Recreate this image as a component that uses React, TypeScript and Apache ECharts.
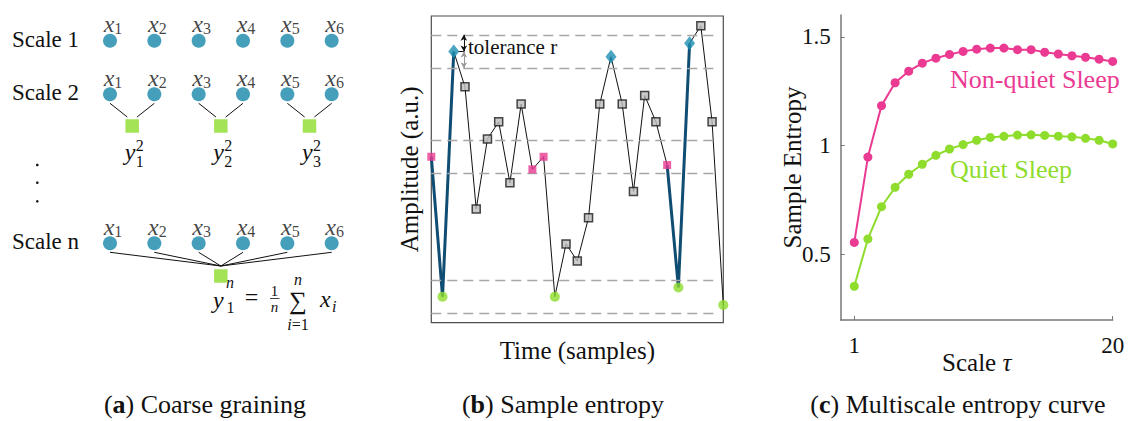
import React, { useEffect, useRef } from 'react';
import * as echarts from 'echarts';

const FONT = 'Liberation Serif, Times New Roman, serif';

// ---------- Panel (a): coarse graining diagram ----------
const sampleColumns = [1, 2, 3, 4, 5, 6];
const sampleIndexLabels = ['1', '2', '3', '4', '5', '6'];
const scaleRowNames = ['Scale 1', 'Scale 2', 'Scale n'];
const scaleRowLevels = [40.7, 94.3, 243.3];
const scale2MeanColumns = [1.5, 3.5, 5.5];
const scale2MeanIndexLabels = ['1', '2', '3'];
const scale2MeanLevel = 126;
const scaleNMeanColumn = 3.5;
const scaleNMeanLevel = 276;

// ---------- Panel (b): sample entropy ----------
const amplitude = [
  54.1, 8.5, 88.4, 76.9, 37.1, 59.9, 65.5, 45.6, 71.3, 50.0, 54.1, 8.5, 25.7, 20.1,
  34.2, 71.3, 86.7, 71.3, 42.8, 74.1, 65.5, 51.4, 11.5, 91.1, 96.8, 65.5, 5.8,
];
// p = template start (pink), g = template second (green), d = m+1 match (diamond), s = other
const pointKind = [
  'p', 'g', 'd', 's', 's', 's', 's', 's', 's', 'p', 'p', 'g', 's', 's',
  's', 's', 'd', 's', 's', 's', 's', 'p', 'g', 'd', 's', 's', 'g',
];
const thickRuns = [[0, 1, 2], [21, 22, 23]];
const templateIndices = [0, 1, 2];
const toleranceR = 5.45;

// ---------- Panel (c): multiscale entropy ----------
const scaleTau = [1, 2, 3, 4, 5, 6, 7, 8, 9, 10, 11, 12, 13, 14, 15, 16, 17, 18, 19, 20];
const nonQuietSE = [
  0.556, 0.948, 1.184, 1.289, 1.342, 1.379, 1.402, 1.419, 1.433, 1.443,
  1.448, 1.448, 1.441, 1.441, 1.429, 1.421, 1.413, 1.406, 1.397, 1.387,
];
const quietSE = [
  0.355, 0.572, 0.72, 0.809, 0.869, 0.915, 0.956, 0.985, 1.005, 1.025,
  1.038, 1.043, 1.049, 1.05, 1.047, 1.044, 1.041, 1.034, 1.025, 1.008,
];
const xTickValues = [1, 20];
const yTickValues = [0.5, 1, 1.5];

const TEAL = '#1687aa';
const GREEN = '#8edc2c';
const PINK = '#ea3a92';
const DARK_BLUE = '#0f4d72';
const INK = '#111111';

// layout helpers for panel (a)
const A_LEFT = 65.67;
const A_COL = 44.333;
const colPx = (c: number) => A_LEFT + c * A_COL;

// every text is written as a rich-text token so that its font is applied per token
function txt(text: string, x: number, y: number, size: number, extra: any = {}) {
  const tok: any = { fontFamily: FONT, fontSize: size, color: extra.fill || INK };
  if (extra.italic) tok.fontStyle = 'italic';
  const rich: any = { ...(extra.rich || {}), t: tok };
  const body = extra.rich ? text : `{t|${text}}`;
  return {
    type: 'text', x, y,
    style: {
      text: body, rich, fontFamily: FONT, fontSize: size, fill: extra.fill || INK,
      align: extra.align || 'left', verticalAlign: 'middle',
    },
  };
}

function buildOption() {
  const circles: any[] = [];
  scaleRowLevels.forEach((lvl) =>
    sampleColumns.forEach((c, i) => circles.push([c, lvl, sampleIndexLabels[i]]))
  );
  const squares: any[] = scale2MeanColumns
    .map((c) => [c, scale2MeanLevel])
    .concat([[scaleNMeanColumn, scaleNMeanLevel]]);
  const segs: any[] = [];
  scale2MeanColumns.forEach((mc, k) => {
    const l = sampleColumns[2 * k];
    const r = sampleColumns[2 * k + 1];
    segs.push({ coords: [[l, scaleRowLevels[1] + 9], [mc - 0.11, scale2MeanLevel - 9]] });
    segs.push({ coords: [[r, scaleRowLevels[1] + 9], [mc + 0.11, scale2MeanLevel - 9]] });
  });
  sampleColumns.forEach((c) =>
    segs.push({ coords: [[c, scaleRowLevels[2] + 9], [scaleNMeanColumn, scaleNMeanLevel - 10]] })
  );

  const pts = amplitude.map((v, i) => [i, v]);
  const byKind = (k: string) => pts.filter((_, i) => pointKind[i] === k);
  const bandLines: any[] = [];
  templateIndices.forEach((ti) => {
    [amplitude[ti] + toleranceR, amplitude[ti] - toleranceR].forEach((v) =>
      bandLines.push([{ coord: [0, v] }, { coord: [25.4, v] }])
    );
  });
  const dIdx = templateIndices[2];
  const dVal = amplitude[dIdx];
  const arrowX = dIdx + 0.9;

  const rich = {
    a: { fontFamily: FONT, fontStyle: 'italic', fontSize: 24, color: INK },
    b: { fontFamily: FONT, fontSize: 16, color: INK, padding: [9, 0, 0, 0] },
  };

  const series: any[] = [
    {
      type: 'lines', coordinateSystem: 'cartesian2d', xAxisIndex: 0, yAxisIndex: 0,
      data: segs, lineStyle: { color: INK, width: 1, opacity: 1 }, silent: true, z: 1,
    },
    {
      type: 'scatter', xAxisIndex: 0, yAxisIndex: 0, data: circles, symbol: 'circle', symbolSize: 14,
      itemStyle: { color: TEAL }, z: 3, silent: true,
      label: {
        show: true, position: 'top', distance: -3, offset: [3, 0], fontFamily: FONT,
        formatter: (p: any) => `{a|x}{b|${p.data[2]}}`, rich,
      },
    },
    {
      type: 'scatter', xAxisIndex: 0, yAxisIndex: 0, data: squares, symbol: 'rect', symbolSize: 13.5,
      itemStyle: { color: GREEN }, z: 3, silent: true,
    },
    {
      type: 'line', xAxisIndex: 1, yAxisIndex: 1, data: [], silent: true, z: 1,
      markLine: {
        silent: true, symbol: ['none', 'none'], label: { show: false },
        lineStyle: { color: '#a6a6a6', width: 1.3, type: [10, 6] },
        data: bandLines,
      },
    },
    {
      type: 'line', xAxisIndex: 1, yAxisIndex: 1, data: pts, showSymbol: false, symbol: 'none',
      lineStyle: { color: INK, width: 1 }, silent: true, z: 2,
    },
    ...thickRuns.map((run) => ({
      type: 'line', xAxisIndex: 1, yAxisIndex: 1, data: run.map((i) => pts[i]), showSymbol: false, symbol: 'none',
      lineStyle: { color: DARK_BLUE, width: 3 }, silent: true, z: 3,
    })),
    {
      type: 'scatter', xAxisIndex: 1, yAxisIndex: 1, data: byKind('s'), symbol: 'rect', symbolSize: 8,
      itemStyle: { color: '#bdbdbd', borderColor: '#1a1a1a', borderWidth: 1.5 }, z: 5, silent: true,
    },
    {
      type: 'scatter', xAxisIndex: 1, yAxisIndex: 1, data: byKind('p'), symbol: 'rect', symbolSize: 8,
      itemStyle: { color: PINK }, z: 5, silent: true,
    },
    {
      type: 'scatter', xAxisIndex: 1, yAxisIndex: 1, data: byKind('g'), symbol: 'circle', symbolSize: 10,
      itemStyle: { color: GREEN }, z: 5, silent: true,
    },
    {
      type: 'scatter', xAxisIndex: 1, yAxisIndex: 1, data: byKind('d'), symbol: 'diamond', symbolSize: [11, 14],
      itemStyle: { color: '#1b8fb2' }, z: 5, silent: true,
    },
    {
      type: 'line', xAxisIndex: 1, yAxisIndex: 1, data: [[arrowX, dVal]], symbol: 'none', lineStyle: { opacity: 0 }, silent: true, z: 4,
      markLine: {
        silent: true, symbol: ['arrow', 'arrow'], symbolSize: [5, 6], label: { show: false },
        lineStyle: { color: INK, width: 1, type: 'solid' },
        data: [[{ coord: [arrowX, dVal + toleranceR] }, { coord: [arrowX, dVal] }]],
      },
    },
    {
      type: 'line', xAxisIndex: 1, yAxisIndex: 1, data: [[arrowX, dVal]], symbol: 'none', lineStyle: { opacity: 0 }, silent: true, z: 4,
      markLine: {
        silent: true, symbol: ['arrow', 'arrow'], symbolSize: [5, 6], label: { show: false },
        lineStyle: { color: '#999999', width: 1, type: 'solid' },
        data: [[{ coord: [arrowX, dVal] }, { coord: [arrowX, dVal - toleranceR] }]],
      },
    },
    {
      type: 'line', xAxisIndex: 1, yAxisIndex: 1, data: [[arrowX, dVal]], symbol: 'none', lineStyle: { opacity: 0 }, silent: true, z: 4,
      markLine: {
        silent: true, symbol: ['none', 'none'], label: { show: false },
        lineStyle: { color: INK, width: 1, type: 'solid' },
        data: [[{ coord: [dIdx + 0.4, dVal] }, { coord: [arrowX, dVal] }]],
      },
    },
    {
      type: 'line', xAxisIndex: 2, yAxisIndex: 2, data: scaleTau.map((t, i) => [t, nonQuietSE[i]]),
      symbol: 'circle', symbolSize: 9, showSymbol: true, lineStyle: { color: PINK, width: 2 },
      itemStyle: { color: PINK }, silent: true, z: 3,
    },
    {
      type: 'line', xAxisIndex: 2, yAxisIndex: 2, data: scaleTau.map((t, i) => [t, quietSE[i]]),
      symbol: 'circle', symbolSize: 9, showSymbol: true, lineStyle: { color: GREEN, width: 2 },
      itemStyle: { color: GREEN }, silent: true, z: 3,
    },
  ];

  const g: any[] = [];
  scaleRowNames.forEach((n, i) => g.push(txt(n, 12, scaleRowLevels[i] - 1.5, 23)));
  [165, 182.7, 201.3].forEach((y) =>
    g.push({ type: 'circle', shape: { cx: 37.3, cy: y, r: 1.3 }, style: { fill: INK }, silent: true })
  );
  scale2MeanColumns.forEach((c, k) => {
    const px = colPx(c);
    g.push(txt('y', px - 7.5, 151.8, 24, { italic: true }));
    g.push(txt('2', px + 3.5, 145, 16));
    g.push(txt(scale2MeanIndexLabels[k], px + 3.5, 161, 16));
  });
  g.push(txt('y', 213, 299.5, 24, { italic: true }));
  g.push(txt('n', 226, 282, 16, { italic: true }));
  g.push(txt('1', 226.5, 307, 16));
  g.push(txt('=', 251.5, 297, 24, { align: 'center' }));
  g.push(txt('1', 274.5, 290.5, 15, { align: 'center' }));
  g.push({ type: 'line', shape: { x1: 270, y1: 298.5, x2: 279.5, y2: 298.5 }, style: { stroke: INK, lineWidth: 0.8 }, silent: true });
  g.push(txt('n', 274.5, 307, 15, { align: 'center', italic: true }));
  g.push(txt('\u2211', 298, 300, 25, { align: 'center' }));
  g.push(txt('n', 298, 279, 16, { align: 'center', italic: true }));
  g.push(txt('{i|i}{u|=1}', 298, 324, 16, {
    align: 'center',
    rich: {
      i: { fontFamily: FONT, fontStyle: 'italic', fontSize: 16, color: INK },
      u: { fontFamily: FONT, fontSize: 16, color: INK },
    },
  }));
  g.push(txt('x', 320, 299, 24, { italic: true }));
  g.push(txt('i', 332, 306.5, 16, { italic: true }));

  g.push(txt('tolerance r', 468, 46.7, 21));

  g.push(txt('Non-quiet Sleep', 950, 79.6, 26, { fill: PINK }));
  g.push(txt('Quiet Sleep', 950, 169.6, 26, { fill: GREEN }));

  const capRich = {
    b: { fontFamily: FONT, fontWeight: 'bold', fontSize: 26, color: INK },
    n: { fontFamily: FONT, fontSize: 26, color: INK },
  };
  g.push(txt('{n|(}{b|a}{n|) Coarse graining}', 205, 404.5, 26, { align: 'center', rich: capRich }));
  g.push(txt('{n|(}{b|b}{n|) Sample entropy}', 563, 404.5, 26, { align: 'center', rich: capRich }));
  g.push(txt('{n|(}{b|c}{n|) Multiscale entropy curve}', 958, 404.5, 26, { align: 'center', rich: capRich }));

  const nameStyle = { fontFamily: FONT, fontSize: 25, color: INK };

  return {
    animation: false,
    backgroundColor: '#ffffff',
    grid: [
      { left: A_LEFT, top: 0, width: A_COL * 7, height: 421 },
      { left: 431.3, top: 16, width: 292, height: 306.7, show: true, borderColor: '#4d4d4d', borderWidth: 1.2, backgroundColor: 'transparent' },
      { left: 840.7, top: 15, width: 272, height: 305 },
    ],
    xAxis: [
      { gridIndex: 0, type: 'value', min: 0, max: 7, show: false },
      {
        gridIndex: 1, type: 'value', min: 0, max: 26,
        axisLine: { show: false }, axisTick: { show: false }, axisLabel: { show: false }, splitLine: { show: false },
        name: 'Time (samples)', nameLocation: 'middle', nameGap: 15, nameMoveOverlap: false, nameTextStyle: nameStyle,
      },
      {
        gridIndex: 2, type: 'value', min: 0, max: 20,
        axisLine: { show: true, onZero: false, lineStyle: { color: '#777777', width: 1.5 } },
        axisTick: { show: true, inside: true, length: 4, customValues: xTickValues, lineStyle: { color: '#777777', width: 1 } },
        axisLabel: { show: true, customValues: xTickValues, fontSize: 23, color: INK, margin: 14, fontFamily: FONT },
        splitLine: { show: false },
        name: 'Scale {t|\u03c4}', nameLocation: 'middle', nameGap: 30, nameMoveOverlap: false,
        nameTextStyle: { ...nameStyle, rich: { t: { fontFamily: FONT, fontStyle: 'italic', fontSize: 25, color: INK } } },
      },
    ],
    yAxis: [
      { gridIndex: 0, type: 'value', min: 0, max: 421, inverse: true, show: false },
      {
        gridIndex: 1, type: 'value', min: 0, max: 100,
        axisLine: { show: false }, axisTick: { show: false }, axisLabel: { show: false }, splitLine: { show: false },
        name: 'Amplitude (a.u.)', nameLocation: 'middle', nameGap: 9, nameMoveOverlap: false, nameTextStyle: nameStyle,
      },
      {
        gridIndex: 2, type: 'value', min: 0.2, max: 1.6,
        axisLine: { show: true, onZero: false, lineStyle: { color: '#777777', width: 1.5 } },
        axisTick: { show: true, inside: true, length: 4, customValues: yTickValues, lineStyle: { color: '#777777', width: 1 } },
        axisLabel: { show: true, customValues: yTickValues, fontSize: 23, color: INK, margin: 10, fontFamily: FONT },
        splitLine: { show: false },
        name: 'Sample Entropy', nameLocation: 'middle', nameGap: 36, nameMoveOverlap: false, nameTextStyle: nameStyle,
      },
    ],
    series,
    graphic: g,
  };
}

export default function App() {
  const ref = useRef<HTMLDivElement>(null);
  useEffect(() => {
    const chart = echarts.init(ref.current as HTMLDivElement, null, { renderer: 'svg' });
    chart.setOption(buildOption() as any);
    return () => chart.dispose();
  }, []);
  return (
    <div
      ref={ref}
      style={{ position: 'fixed', left: 0, top: 0, width: 1131, height: 421, background: '#ffffff' }}
    />
  );
}
